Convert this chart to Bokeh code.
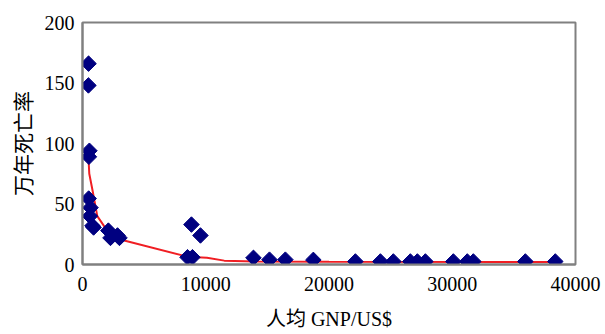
from bokeh.plotting import figure
from bokeh.models import FixedTicker, Range1d
from bokeh.embed import file_html
from bokeh.resources import INLINE
import numpy as np

# Scatter data: per-capita GNP (US$) vs. mortality per 10,000
gnp = [490, 480, 560, 520, 500, 650, 600, 810, 900, 2100, 2270, 2840, 3000,
       8520, 8920, 8840, 9570, 13870, 15170, 16460, 18730, 22140, 24170,
       25220, 26600, 27170, 27820, 30090, 31220, 31710, 35930, 38360]
mortality = [166, 148, 94, 89, 54.5, 47, 40, 32, 30.6, 28, 22, 24, 22,
             6, 6, 33, 24, 5.5, 4, 4, 3.8, 2.5, 2.5,
             2.5, 2.5, 2.5, 2.5, 2.5, 2.5, 2.5, 2.5, 2.5]

# Red trend line
trend_x = [480, 550, 800, 1200, 2000, 3300, 8500, 10100, 11500, 14000, 20000, 38360]
trend_y = [89, 75, 62, 40, 28, 20, 6.5, 5.5, 3.2, 2.5, 2.2, 2.0]

x_ticks = [0, 10000, 20000, 30000, 40000]
y_ticks = [0, 50, 100, 150, 200]

p = figure(width=605, height=334, output_backend="svg", toolbar_location=None,
           x_range=Range1d(0, 40000), y_range=Range1d(0, 200),
           min_border_left=82, min_border_right=30, min_border_top=22,
           min_border_bottom=70)

p.line(trend_x, trend_y, line_color="#f01e23", line_width=2)
p.scatter(gnp, mortality, marker="square", angle=np.pi / 4, size=11,
          fill_color="#000080", line_color="#000080")

p.xgrid.visible = False
p.ygrid.visible = False
p.outline_line_color = "#808080"
p.outline_line_width = 2
p.background_fill_color = "white"
p.border_fill_color = "white"

for ax in (p.xaxis[0], p.yaxis[0]):
    ax.axis_line_color = "#808080"
    ax.axis_line_width = 2
    ax.major_tick_line_color = None
    ax.minor_tick_line_color = None
    ax.major_tick_out = 0
    ax.major_tick_in = 0
    ax.major_label_text_font = "Liberation Serif"
    ax.major_label_text_font_size = "20px"
    ax.major_label_text_color = "black"
    ax.axis_label_text_font_style = "normal"
    ax.axis_label_text_color = "black"

p.xaxis.ticker = FixedTicker(ticks=x_ticks)
p.yaxis.ticker = FixedTicker(ticks=y_ticks)
p.xaxis.major_label_standoff = 12
p.yaxis.major_label_standoff = 8

p.xaxis.axis_label = "人均 GNP/US$"
p.xaxis.axis_label_text_font = "'Liberation Serif', 'Noto Sans CJK SC'"
p.xaxis.axis_label_text_font_size = "20px"
p.xaxis.axis_label_standoff = 14

p.yaxis.axis_label = "万年死亡率"
p.yaxis.axis_label_text_font = "Noto Sans CJK SC"
p.yaxis.axis_label_text_font_size = "21px"
p.yaxis.axis_label_standoff = 5

open("out.html", "w").write(file_html(p, INLINE))
